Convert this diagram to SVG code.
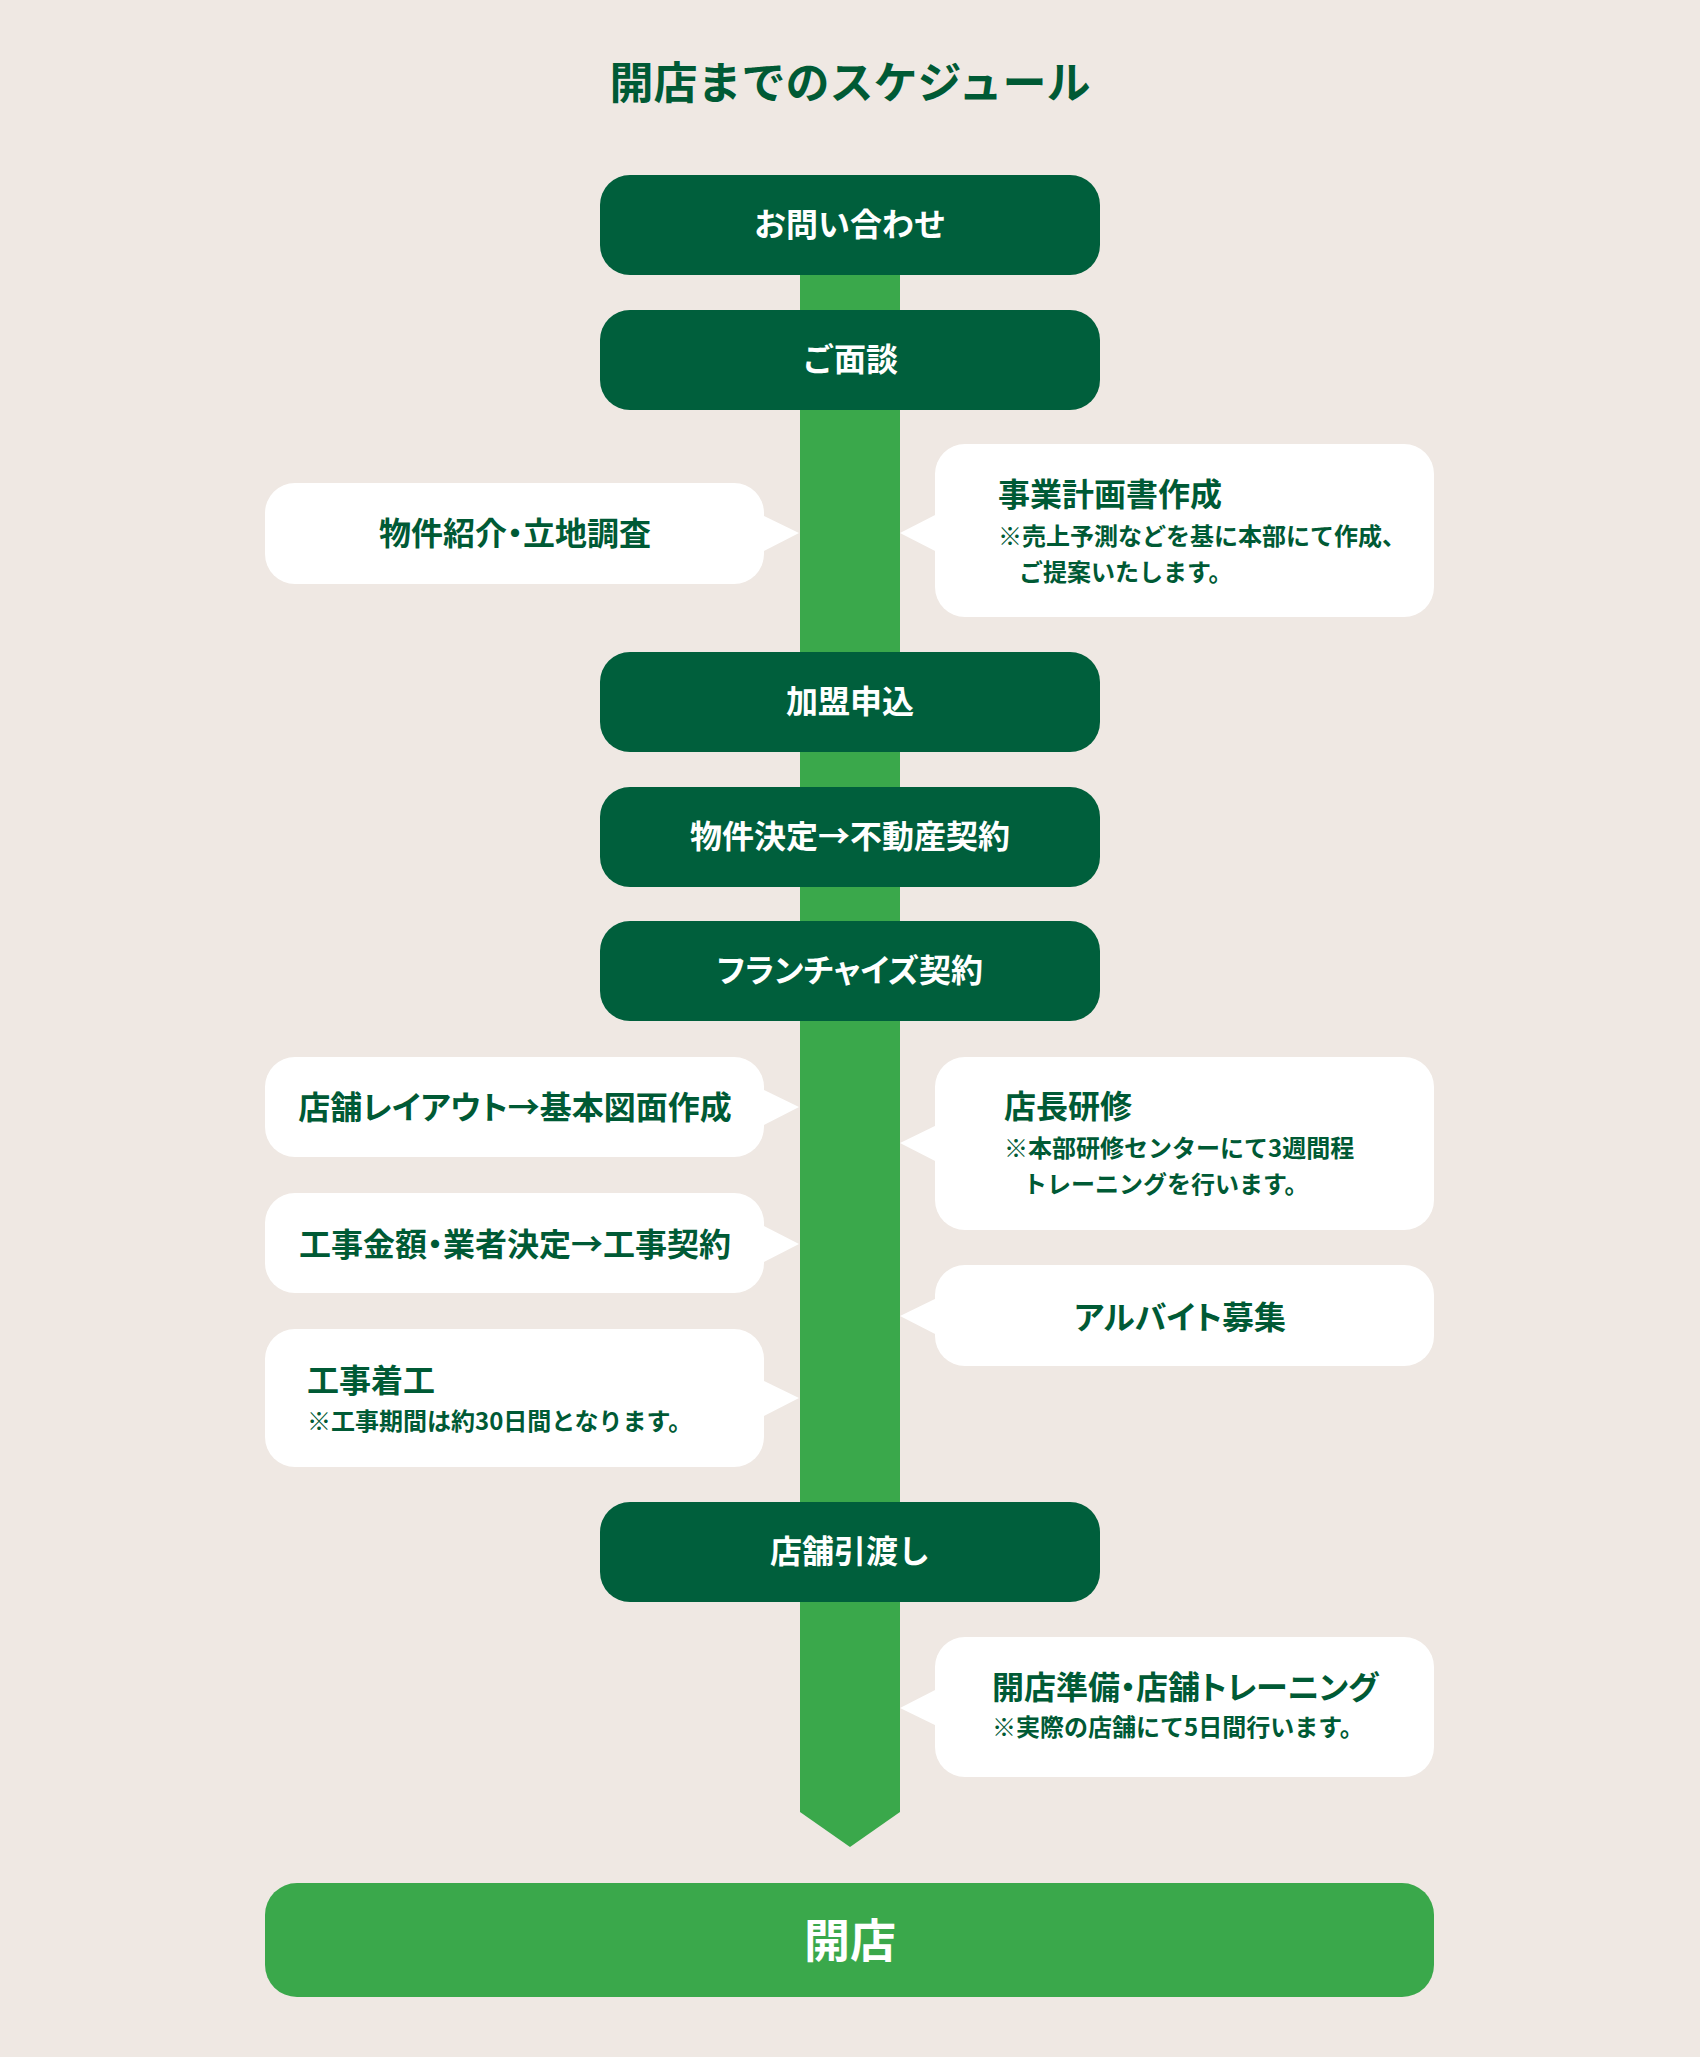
<svg xmlns="http://www.w3.org/2000/svg" width="1700" height="2057" viewBox="0 0 1700 2057">
<style>
text{font-family:"Noto Sans CJK JP","Noto Sans CJK SC",sans-serif;font-weight:700;dominant-baseline:central}
.step rect{fill:#005f3c}
.step text{fill:#ffffff;font-size:32px;text-anchor:middle}
.call rect,.call polygon{fill:#ffffff}
.call text{fill:#005a35}
.h{font-size:32px}
.s{font-size:24px}
.c{text-anchor:middle}
.p{font-feature-settings:"palt" 1}
</style>
<rect x="0" y="0" width="1700" height="2057" fill="#efe8e3"/>
<text id="title" x="850" y="80" fill="#005a35" font-size="44" text-anchor="middle">開店までのスケジュール</text>
<g id="connectors">
<polygon points="800,225 900,225 900,1812 850,1847 800,1812" fill="#3aa84b"/>
</g>
<g id="step1" class="step"><rect x="600" y="175" width="500" height="100" rx="30"/><text x="850" y="222">お問い合わせ</text></g>
<g id="step2" class="step"><rect x="600" y="310" width="500" height="100" rx="30"/><text x="850" y="357">ご面談</text></g>
<g id="step3" class="step"><rect x="600" y="652" width="500" height="100" rx="30"/><text x="850" y="699">加盟申込</text></g>
<g id="step4" class="step"><rect x="600" y="787" width="500" height="100" rx="30"/><text x="850" y="834">物件決定→不動産契約</text></g>
<g id="step5" class="step"><rect x="600" y="921" width="500" height="100" rx="30"/><text class="p" x="850" y="968">フランチャイズ契約</text></g>
<g id="step6" class="step"><rect x="600" y="1502" width="500" height="100" rx="30"/><text x="850" y="1549">店舗引渡し</text></g>
<g id="open"><rect x="265" y="1883" width="1169" height="114" rx="32" fill="#3aa84b"/><text x="850" y="1937" fill="#ffffff" font-size="46" text-anchor="middle">開店</text></g>
<g id="c-property" class="call"><rect x="265" y="483" width="499" height="101" rx="30"/><polygon points="760,514 799,533 760,553"/><text class="h c p" x="515" y="531">物件紹介・立地調査</text></g>
<g id="c-plan" class="call"><rect x="935" y="444" width="499" height="173" rx="30"/><polygon points="939,513 900,533 939,553"/><text class="h" x="998" y="492">事業計画書作成</text><text class="s" x="998" y="534">※売上予測などを基に本部にて作成、</text><text class="s" x="1019" y="570">ご提案いたします。</text></g>
<g id="c-layout" class="call"><rect x="265" y="1057" width="499" height="100" rx="30"/><polygon points="760,1088 799,1107 760,1127"/><text class="h c p" x="515" y="1105">店舗レイアウト→基本図面作成</text></g>
<g id="c-contract" class="call"><rect x="265" y="1193" width="499" height="100" rx="30"/><polygon points="760,1224 799,1244 760,1264"/><text class="h c p" x="515" y="1242">工事金額・業者決定→工事契約</text></g>
<g id="c-construct" class="call"><rect x="265" y="1329" width="499" height="138" rx="30"/><polygon points="760,1379 799,1398 760,1418"/><text class="h" x="307" y="1378">工事着工</text><text class="s" x="307" y="1419">※工事期間は約30日間となります。</text></g>
<g id="c-training" class="call"><rect x="935" y="1057" width="499" height="173" rx="30"/><polygon points="939,1124 900,1143 939,1163"/><text class="h" x="1004" y="1104">店長研修</text><text class="s" x="1004" y="1146">※本部研修センターにて3週間程</text><text class="s" x="1023" y="1182">トレーニングを行います。</text></g>
<g id="c-staff" class="call"><rect x="935" y="1265" width="499" height="101" rx="30"/><polygon points="939,1297 900,1316 939,1336"/><text class="h c p" x="1180" y="1315">アルバイト募集</text></g>
<g id="c-prep" class="call"><rect x="935" y="1637" width="499" height="140" rx="30"/><polygon points="939,1688 900,1708 939,1727"/><text class="h p" x="992" y="1685">開店準備・店舗トレーニング</text><text class="s" x="992" y="1725">※実際の店舗にて5日間行います。</text></g>
</svg>
